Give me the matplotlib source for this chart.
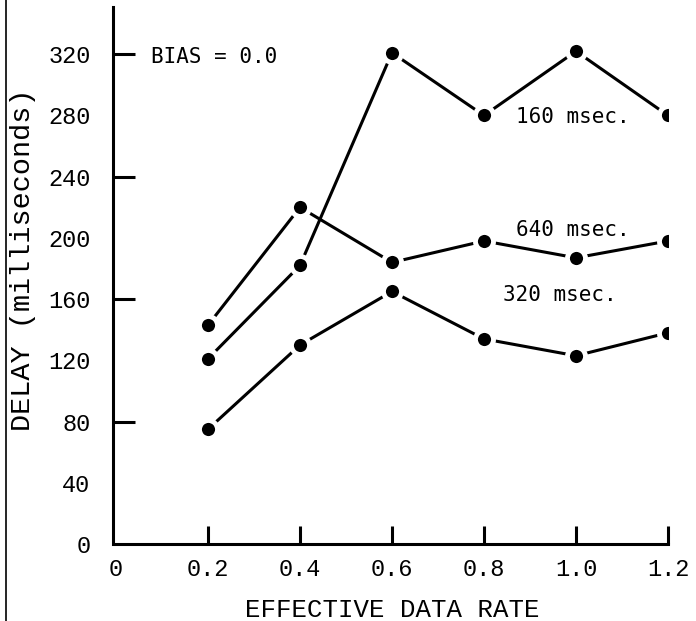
import matplotlib
matplotlib.use("Agg")
import matplotlib.pyplot as plt
from matplotlib.lines import Line2D

# datos
rate = [0.2, 0.4, 0.6, 0.8, 1.0, 1.2]
delay_160 = [121, 182, 321, 280, 322, 280]
delay_640 = [143, 220, 184, 198, 187, 198]
delay_320 = [75, 130, 165, 134, 123, 138]

x_ticks = [0, 0.2, 0.4, 0.6, 0.8, 1.0, 1.2]
x_labels = ["0", "0.2", "0.4", "0.6", "0.8", "1.0", "1.2"]
y_ticks = [0, 40, 80, 120, 160, 200, 240, 280, 320]
y_marked = [80, 160, 240, 320]

MONO = "Liberation Mono"
ANOT = "DejaVu Sans Mono"

fig = plt.figure(figsize=(6.96, 6.21), dpi=100)
ax = fig.add_axes([0.1667, 0.124, 0.793, 0.865])

estilo = dict(color="black", lw=2.2, marker="o", ms=13,
              markerfacecolor="black", markeredgecolor="white", mew=3.5)
for serie in (delay_160, delay_640, delay_320):
    ax.plot(rate, serie, **estilo)

ax.set_xlim(0, 1.2)
ax.set_ylim(0, 351)
ax.spines["top"].set_visible(False)
ax.spines["right"].set_visible(False)
ax.spines["left"].set_linewidth(2.2)
ax.spines["bottom"].set_linewidth(2.2)
ax.spines["left"].set_position(("data", -0.007))

ax.set_xticks(x_ticks)
ax.set_xticklabels(x_labels, fontfamily=MONO, fontsize=17)
ax.set_yticks(y_ticks)
ax.set_yticklabels([str(v) for v in y_ticks], fontfamily=MONO, fontsize=17)
ax.tick_params(axis="x", direction="in", length=13, width=2.2, pad=10)
ax.tick_params(axis="y", direction="in", length=16, width=2.2, pad=16)
ax.xaxis.get_major_ticks()[0].tick1line.set_visible(False)
for v, t in zip(y_ticks, ax.yaxis.get_major_ticks()):
    if v not in y_marked:
        t.tick1line.set_visible(False)

ax.set_xlabel("EFFECTIVE DATA RATE", fontfamily=MONO, fontsize=18.5, labelpad=12)
ax.set_ylabel("DELAY (milliseconds)", fontfamily=MONO, fontsize=20.5)
ax.yaxis.set_label_coords(-0.145, 0.53)

ax.text(0.075, 318, "BIAS = 0.0", fontfamily=ANOT, fontsize=15, va="center")
ax.text(0.87, 279, "160 msec.", fontfamily=ANOT, fontsize=15, va="center")
ax.text(0.87, 205, "640 msec.", fontfamily=ANOT, fontsize=15, va="center")
ax.text(0.842, 163, "320 msec.", fontfamily=ANOT, fontsize=15, va="center")

# borde de la hoja escaneada
fig.add_artist(Line2D([0.009, 0.009], [0, 1], color="black", lw=1.2,
                      transform=fig.transFigure))

fig.savefig("out.png", dpi=100, facecolor="white")
